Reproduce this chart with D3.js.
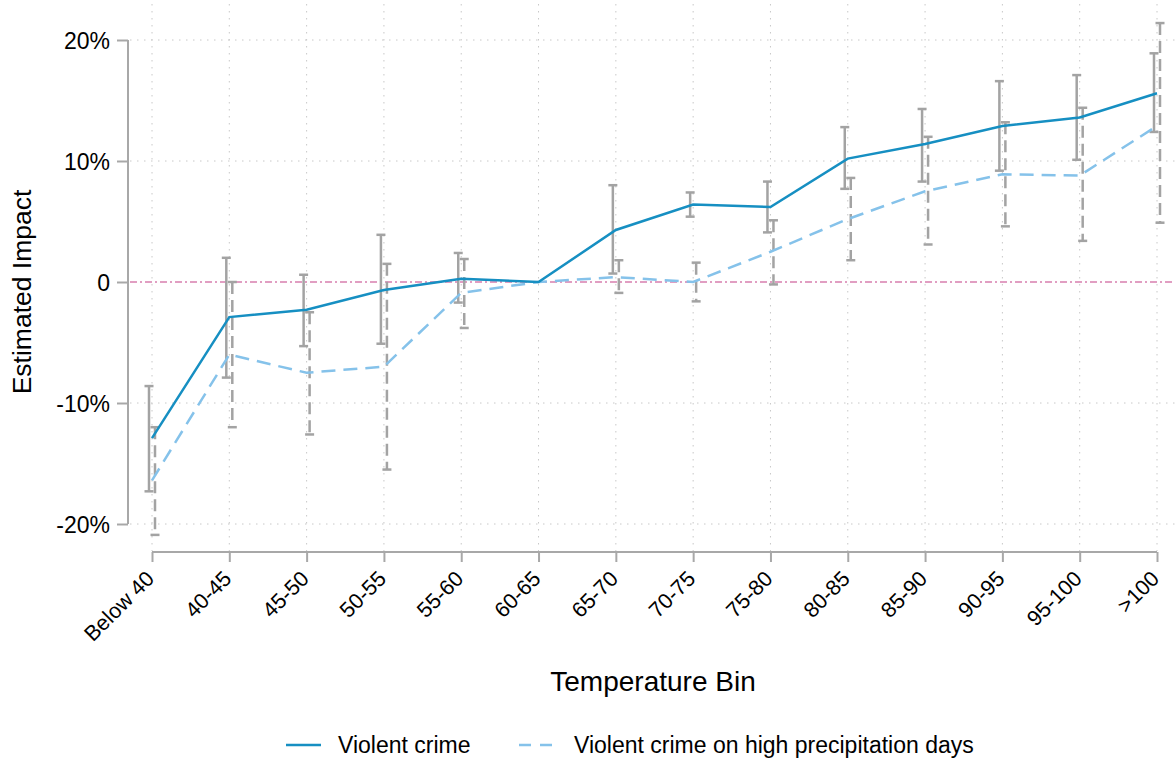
<!DOCTYPE html>
<html><head><meta charset="utf-8">
<script src="https://cdn.jsdelivr.net/npm/d3@7"></script>
<style>body{margin:0;background:#fff;} text{font-family:"Liberation Sans",Arial,sans-serif;}</style>
</head><body>
<svg id="c" width="1175" height="761"></svg>
<script>
const categories = ["Below 40","40-45","45-50","50-55","55-60","60-65","65-70","70-75","75-80","80-85","85-90","90-95","95-100",">100"];
const violent      = [-12.9,-2.9,-2.3,-0.66,0.27,0,4.3,6.4,6.2,10.2,11.4,12.9,13.6,15.6];
const violentLo    = [-17.3,-7.9,-5.3,-5.1,-1.7,null,0.7,5.4,4.1,7.7,8.3,9.2,10.1,12.4];
const violentHi    = [-8.6,2.0,0.6,3.9,2.4,null,8.0,7.4,8.3,12.8,14.3,16.6,17.1,18.9];
const precip       = [-16.4,-6.0,-7.5,-7.0,-0.9,0,0.4,0.0,2.5,5.2,7.5,8.9,8.8,12.9];
const precipLo     = [-20.9,-12.0,-12.6,-15.5,-3.8,null,-0.9,-1.6,-0.2,1.8,3.1,4.6,3.4,4.9];
const precipHi     = [-12.0,0.0,-2.5,1.5,1.9,null,1.8,1.6,5.1,8.6,12.0,13.2,14.4,21.4];
const yTicks = [-20,-10,0,10,20];
const yTickLabels = ["-20%","-10%","0","10%","20%"];

const svg = d3.select("#c");
const x = d3.scalePoint().domain(categories).range([152,1157]);
const y = d3.scaleLinear().domain([-20,20]).range([524,40]);
const gridCol = "#c8c8c8";
const FONT = "Liberation Sans, Arial, sans-serif";

// vertical grid
svg.append("g").selectAll("line").data(categories).join("line")
  .attr("x1",d=>x(d)).attr("x2",d=>x(d)).attr("y1",4).attr("y2",551)
  .attr("stroke",gridCol).attr("stroke-width",1).attr("stroke-dasharray","1.5,5.5");
// horizontal grid
svg.append("g").selectAll("line").data(yTicks.filter(d=>d!==0)).join("line")
  .attr("x1",130).attr("x2",1175).attr("y1",d=>y(d)).attr("y2",d=>y(d))
  .attr("stroke",gridCol).attr("stroke-width",1).attr("stroke-dasharray","1.5,5.5");
// zero line
svg.append("line").attr("x1",130).attr("x2",1175).attr("y1",y(0)).attr("y2",y(0))
  .attr("stroke","#d77fae").attr("stroke-width",1.5).attr("stroke-dasharray","7,3,2,3");

// y axis
const yAxis = d3.axisLeft(y).tickValues(yTicks).tickFormat((d,i)=>yTickLabels[i]).tickSize(11).tickPadding(7);
const gy = svg.append("g").attr("transform","translate(128,0)").call(yAxis);
gy.select(".domain").attr("stroke","#a8a8a8").attr("stroke-width",2).attr("d","M0,40V524");
gy.selectAll(".tick line").attr("stroke","#a8a8a8").attr("stroke-width",2);
gy.selectAll(".tick text").attr("font-size",23).attr("fill","#000").attr("font-family",FONT).attr("dy","0.36em");

// x axis
const xAxis = d3.axisBottom(x).tickSize(10).tickPadding(6);
const gx = svg.append("g").attr("transform","translate(0,552)").call(xAxis);
gx.select(".domain").attr("stroke","#a8a8a8").attr("stroke-width",2).attr("d","M152,0H1157");
gx.selectAll(".tick line").attr("stroke","#a8a8a8").attr("stroke-width",2);
gx.selectAll(".tick text").attr("font-size",21.5).attr("fill","#000").attr("font-family",FONT)
  .attr("text-anchor","end").attr("x",0).attr("y",0).attr("dy",0).attr("transform","translate(3,28) rotate(-45)");

// error bars
function errBars(lo, hi, off, dashed){
  const g = svg.append("g");
  const idx = categories.map((c,i)=>i).filter(i=>lo[i]!==null);
  g.selectAll("line.v").data(idx).join("line")
    .attr("x1",i=>x(categories[i])+off).attr("x2",i=>x(categories[i])+off)
    .attr("y1",i=>y(hi[i])).attr("y2",i=>y(lo[i]))
    .attr("stroke","#a3a3a3").attr("stroke-width",2.5)
    .attr("stroke-dasharray",dashed?"12,6":null);
  const cw = 4.5;
  ["lo","hi"].forEach(k=>{
    const arr = k==="lo"?lo:hi;
    g.selectAll("line."+k).data(idx).join("line").attr("class",k)
      .attr("x1",i=>x(categories[i])+off-cw).attr("x2",i=>x(categories[i])+off+cw)
      .attr("y1",i=>y(arr[i])).attr("y2",i=>y(arr[i]))
      .attr("stroke","#a3a3a3").attr("stroke-width",2.5);
  });
}
errBars(violentLo, violentHi, -3, false);
errBars(precipLo, precipHi, 3, true);

// lines
const line = d3.line().x((d,i)=>x(categories[i])).y(d=>y(d));
svg.append("path").datum(precip).attr("d",line).attr("fill","none")
  .attr("stroke","#85c2ea").attr("stroke-width",2.5).attr("stroke-dasharray","14,8");
svg.append("path").datum(violent).attr("d",line).attr("fill","none")
  .attr("stroke","#168fc2").attr("stroke-width",2.5);

// axis titles
svg.append("text").attr("x",653).attr("y",691).attr("text-anchor","middle")
  .attr("font-size",28).attr("fill","#000").text("Temperature Bin");
svg.append("text").attr("transform","translate(31,292) rotate(-90)").attr("text-anchor","middle")
  .attr("font-size",26.5).attr("fill","#000").text("Estimated Impact");

// legend
const lg = svg.append("g");
lg.append("line").attr("x1",286).attr("x2",321).attr("y1",745).attr("y2",745).attr("stroke","#168fc2").attr("stroke-width",2.5);
lg.append("text").attr("x",338).attr("y",753).attr("font-size",23).attr("fill","#000").text("Violent crime");
lg.append("line").attr("x1",519).attr("x2",556).attr("y1",745).attr("y2",745).attr("stroke","#85c2ea").attr("stroke-width",2.5).attr("stroke-dasharray","12,9");
lg.append("text").attr("x",574).attr("y",753).attr("font-size",23).attr("fill","#000").text("Violent crime on high precipitation days");
</script>
</body></html>
